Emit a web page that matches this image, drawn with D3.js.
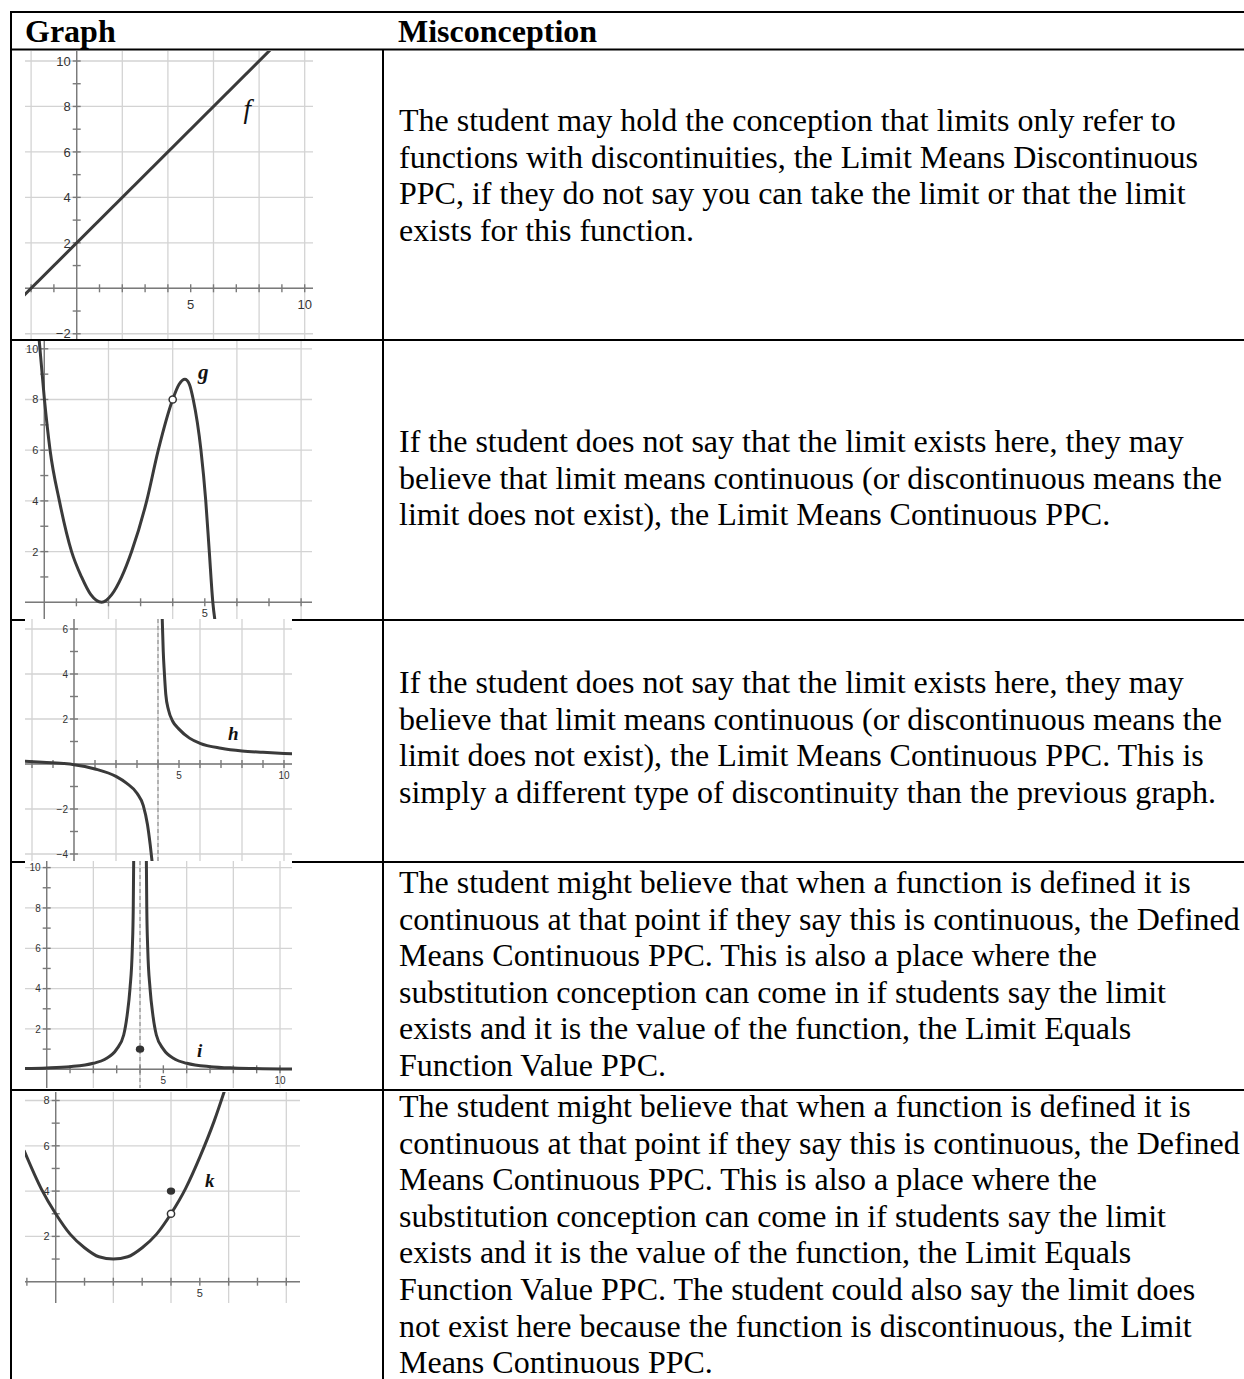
<!DOCTYPE html>
<html><head><meta charset="utf-8">
<script src="https://cdn.jsdelivr.net/npm/d3@7"></script>
<style>body{margin:0;background:#fff}svg{display:block}</style>
</head><body>
<svg id="c" width="1244" height="1379"></svg>
<script>
// ---------------- DATA ----------------
const headerLabels = ["Graph", "Misconception"];

const misconceptionRows = [
  ["The student may hold the conception that limits only refer to",
   "functions with discontinuities, the Limit Means Discontinuous",
   "PPC, if they do not say you can take the limit or that the limit",
   "exists for this function."],
  ["If the student does not say that the limit exists here, they may",
   "believe that limit means continuous (or discontinuous means the",
   "limit does not exist), the Limit Means Continuous PPC."],
  ["If the student does not say that the limit exists here, they may",
   "believe that limit means continuous (or discontinuous means the",
   "limit does not exist), the Limit Means Continuous PPC. This is",
   "simply a different type of discontinuity than the previous graph."],
  ["The student might believe that when a function is defined it is",
   "continuous at that point if they say this is continuous, the Defined",
   "Means Continuous PPC. This is also a place where the",
   "substitution conception can come in if students say the limit",
   "exists and it is the value of the function, the Limit Equals",
   "Function Value PPC."],
  ["The student might believe that when a function is defined it is",
   "continuous at that point if they say this is continuous, the Defined",
   "Means Continuous PPC. This is also a place where the",
   "substitution conception can come in if students say the limit",
   "exists and it is the value of the function, the Limit Equals",
   "Function Value PPC. The student could also say the limit does",
   "not exist here because the function is discontinuous, the Limit",
   "Means Continuous PPC."]
];

// function names
const functionNames = ["f", "g", "h", "i", "k"];

// f : straight line
const fCurve = [[-2.4, -0.4], [8.6, 10.6]];
const fXLabels = [5, 10];
const fYLabels = [-2, 2, 4, 6, 8, 10];

// g : curve with a hole
const gCurve = [[-0.16, 10.35], [0, 8.05], [0.18, 6], [0.47, 4], [0.85, 2], [1.16, 1],
  [1.45, 0.3], [1.79, 0], [2.1, 0.3], [2.41, 1], [2.72, 2], [3.19, 4], [3.55, 6], [4, 8],
  [4.2, 8.6], [4.38, 8.8], [4.52, 8.6], [4.64, 8], [4.88, 6], [5.03, 4], [5.14, 2], [5.25, 0], [5.35, -1]];
const gHoles = [[4, 8]];
const gXLabels = [5];
const gYLabels = [2, 4, 6, 8, 10];

// h : vertical asymptote at x = 4
const hLeft = [[-2.4, 0.12], [-1.5, 0.08], [-0.5, 0.02], [0, -0.03], [1, -0.22], [2, -0.55], [2.5, -0.85],
  [3, -1.3], [3.3, -1.85], [3.5, -2.7], [3.63, -3.6], [3.75, -4.6]];
const hRight = [[4.18, 7], [4.2, 6.5], [4.25, 5], [4.3, 4.1], [4.37, 3.1], [4.5, 2.4], [4.7, 1.9],
  [5, 1.55], [5.5, 1.15], [6, 0.92], [7, 0.7], [8, 0.58], [9, 0.52], [10, 0.47], [10.5, 0.45]];
const hAsymptote = [4];
const hXLabels = [5, 10];
const hYLabels = [-4, -2, 2, 4, 6];

// i : symmetric vertical asymptote at x = 4, defined point (4,1)
const iLeft = [[-2.4, 0.02], [0, 0.07], [1, 0.13], [2, 0.3], [2.5, 0.5], [3, 1.0], [3.3, 1.7],
  [3.45, 2.7], [3.57, 4], [3.67, 6], [3.71, 8], [3.73, 10.6]];
const iRight = [[4.27, 10.6], [4.29, 8], [4.33, 6], [4.43, 4], [4.55, 2.7], [4.7, 1.7], [5, 1.0],
  [5.5, 0.5], [6, 0.3], [7, 0.13], [8, 0.07], [10.6, 0.02]];
const iAsymptote = [4];
const iDots = [[4, 1]];
const iXLabels = [5, 10];
const iYLabels = [2, 4, 6, 8, 10];

// k : parabola with hole at (4,3) and point at (4,4)
const kCurve = [[-1.1, 5.8], [-0.5, 4.1], [0, 3], [0.5, 2.1], [1, 1.5], [1.5, 1.1], [2, 1],
  [2.5, 1.1], [3, 1.5], [3.5, 2.1], [4, 3], [4.5, 4.1], [5, 5.5], [5.5, 7.1], [5.9, 8.6]];
const kHoles = [[4, 3]];
const kDots = [[4, 4]];
const kXLabels = [5];
const kYLabels = [2, 4, 6, 8];

// label anchor positions (data units)
const nameAnchors = [[7.48, 7.49], [4.79, 8.81], [7.33, 1.07], [6.44, 0.61], [5.18, 4.18]];

// ---------------- LAYOUT ----------------
const svg = d3.select("#c");
const SERIF = '"Liberation Serif","Times New Roman",serif';
const SANS = '"Liberation Sans",Arial,sans-serif';

const T = { top: 12, head: 49.5, rows: [340, 620, 862, 1090], left: 11, mid: 383, right: 1244, bottom: 1379 };

// table borders
const borders = svg.append("g").attr("stroke", "#000").attr("stroke-width", 2);
[T.top, T.head].concat(T.rows).forEach(yy =>
  borders.append("line").attr("x1", T.left - 1).attr("x2", T.right).attr("y1", yy).attr("y2", yy));
borders.append("line").attr("x1", T.left).attr("x2", T.left).attr("y1", T.top - 1).attr("y2", T.bottom);
borders.append("line").attr("x1", T.mid).attr("x2", T.mid).attr("y1", T.head).attr("y2", T.bottom);

// headers
svg.append("text").attr("x", 25).attr("y", 42).text(headerLabels[0])
  .attr("font-family", SERIF).attr("font-weight", "bold").attr("font-size", 32);
svg.append("text").attr("x", 398).attr("y", 42).text(headerLabels[1])
  .attr("font-family", SERIF).attr("font-weight", "bold").attr("font-size", 32);

// misconception texts
const firstBaselines = [131, 452, 693, 893, 1117];
const lineStep = 36.6;
misconceptionRows.forEach((lines, r) => {
  const t = svg.append("text").attr("font-family", SERIF).attr("font-size", 32).attr("fill", "#000");
  lines.forEach((ln, j) => {
    t.append("tspan").attr("x", 399).attr("y", firstBaselines[r] + j * lineStep).text(ln);
  });
});

// ---------------- GRAPH PANELS ----------------
const panels = [
  { box: [25, 51, 313, 339], xd: [0, 10], xr: [76.7, 304.7], yd: [0, 10], yr: [288.3, 61.0],
    curves: [fCurve], xLabels: fXLabels, yLabels: fYLabels, lab: 13, xlOff: 21,
    nameFont: { size: 27, weight: "normal", anchor: "middle" } },
  { box: [25, 341, 312, 619], xd: [0, 8], xr: [44.3, 301.1], yd: [0, 10], yr: [602.3, 348.8],
    curves: [gCurve], holes: gHoles, xLabels: gXLabels, yLabels: gYLabels, lab: 11, xlOff: 15,
    nameFont: { size: 21, weight: "bold", anchor: "start" } },
  { box: [25, 619, 292, 861], xd: [0, 10], xr: [74, 284], yd: [0, 6], yr: [764, 629],
    curves: [hLeft, hRight], asym: hAsymptote, xLabels: hXLabels, yLabels: hYLabels, lab: 10, xlOff: 15,
    nameFont: { size: 19, weight: "bold", anchor: "start" } },
  { box: [25, 861, 292, 1088], xd: [0, 10], xr: [46.7, 280], yd: [0, 10], yr: [1069.3, 867.6],
    curves: [iLeft, iRight], asym: iAsymptote, dots: iDots, xLabels: iXLabels, yLabels: iYLabels, lab: 10, xlOff: 15,
    nameFont: { size: 19, weight: "bold", anchor: "start" } },
  { box: [25, 1092, 300, 1303], xd: [0, 8], xr: [55.7, 286.3], yd: [0, 8], yr: [1281.7, 1100.5],
    curves: [kCurve], holes: kHoles, dots: kDots, xLabels: kXLabels, yLabels: kYLabels, lab: 11, xlOff: 15,
    nameFont: { size: 19, weight: "bold", anchor: "start" } }
];

const defs = svg.append("defs");
panels.forEach((p, idx) => {
  const [bx0, by0, bx1, by1] = p.box;
  const cid = "clip" + idx;
  defs.append("clipPath").attr("id", cid).append("rect")
    .attr("x", bx0).attr("y", by0).attr("width", bx1 - bx0).attr("height", by1 - by0);
  const g = svg.append("g").attr("clip-path", `url(#${cid})`);
  g.append("rect").attr("x", bx0).attr("y", by0).attr("width", bx1 - bx0).attr("height", by1 - by0).attr("fill", "#fff");

  const x = d3.scaleLinear().domain(p.xd).range(p.xr);
  const y = d3.scaleLinear().domain(p.yd).range(p.yr);
  const xa = x.invert(bx0), xb = x.invert(bx1);
  const ya = y.invert(by1), yb = y.invert(by0);

  // grid every 2 units
  const gx = d3.range(Math.ceil(xa / 2) * 2, xb + 1e-6, 2);
  const gy = d3.range(Math.ceil(ya / 2) * 2, yb + 1e-6, 2);
  const grid = g.append("g").attr("stroke", "#d3d3d3").attr("stroke-width", 1.3);
  gx.forEach(v => grid.append("line").attr("x1", x(v)).attr("x2", x(v)).attr("y1", by0).attr("y2", by1));
  gy.forEach(v => grid.append("line").attr("y1", y(v)).attr("y2", y(v)).attr("x1", bx0).attr("x2", bx1));

  // axes
  const ax = g.append("g").attr("stroke", "#7a7a7a").attr("stroke-width", 1.4);
  ax.append("line").attr("x1", bx0).attr("x2", bx1).attr("y1", y(0)).attr("y2", y(0));
  ax.append("line").attr("x1", x(0)).attr("x2", x(0)).attr("y1", by0).attr("y2", by1);
  d3.range(Math.ceil(xa), xb + 1e-6, 1).filter(v => v !== 0).forEach(v =>
    ax.append("line").attr("x1", x(v)).attr("x2", x(v)).attr("y1", y(0) - 4).attr("y2", y(0) + 4));
  d3.range(Math.ceil(ya), yb + 1e-6, 1).filter(v => v !== 0).forEach(v =>
    ax.append("line").attr("y1", y(v)).attr("y2", y(v)).attr("x1", x(0) - 4).attr("x2", x(0) + 4));

  // tick labels
  const tl = g.append("g").attr("font-family", SANS).attr("font-size", p.lab).attr("fill", "#333");
  p.yLabels.forEach(v => tl.append("text").attr("x", x(0) - 6).attr("y", y(v)).attr("dy", "0.36em")
    .attr("text-anchor", "end").text(v < 0 ? "\u2212" + Math.abs(v) : v));
  p.xLabels.forEach(v => tl.append("text").attr("x", x(v)).attr("y", y(0) + p.xlOff)
    .attr("text-anchor", "middle").text(v));

  // asymptotes
  (p.asym || []).forEach(v => g.append("line").attr("x1", x(v)).attr("x2", x(v)).attr("y1", by0).attr("y2", by1)
    .attr("stroke", "#8a8a8a").attr("stroke-width", 1.1).attr("stroke-dasharray", "4,3"));

  // curves
  const line = d3.line().x(d => x(d[0])).y(d => y(d[1])).curve(d3.curveMonotoneX);
  p.curves.forEach(c => g.append("path").attr("d", line(c)).attr("fill", "none")
    .attr("stroke", "#3a3a3a").attr("stroke-width", 3).attr("stroke-linejoin", "round"));

  (p.dots || []).forEach(d => g.append("ellipse").attr("cx", x(d[0])).attr("cy", y(d[1])).attr("rx", 4.2).attr("ry", 3.6)
    .attr("fill", "#333"));
  (p.holes || []).forEach(d => g.append("circle").attr("cx", x(d[0])).attr("cy", y(d[1])).attr("r", 3.6)
    .attr("fill", "#fff").attr("stroke", "#333").attr("stroke-width", 1.5));

  // function name
  const a = nameAnchors[idx];
  g.append("text").attr("x", x(a[0])).attr("y", y(a[1])).text(functionNames[idx])
    .attr("font-family", SERIF).attr("font-style", "italic").attr("font-weight", p.nameFont.weight)
    .attr("font-size", p.nameFont.size).attr("text-anchor", p.nameFont.anchor).attr("fill", "#111");
});
</script>
</body></html>
